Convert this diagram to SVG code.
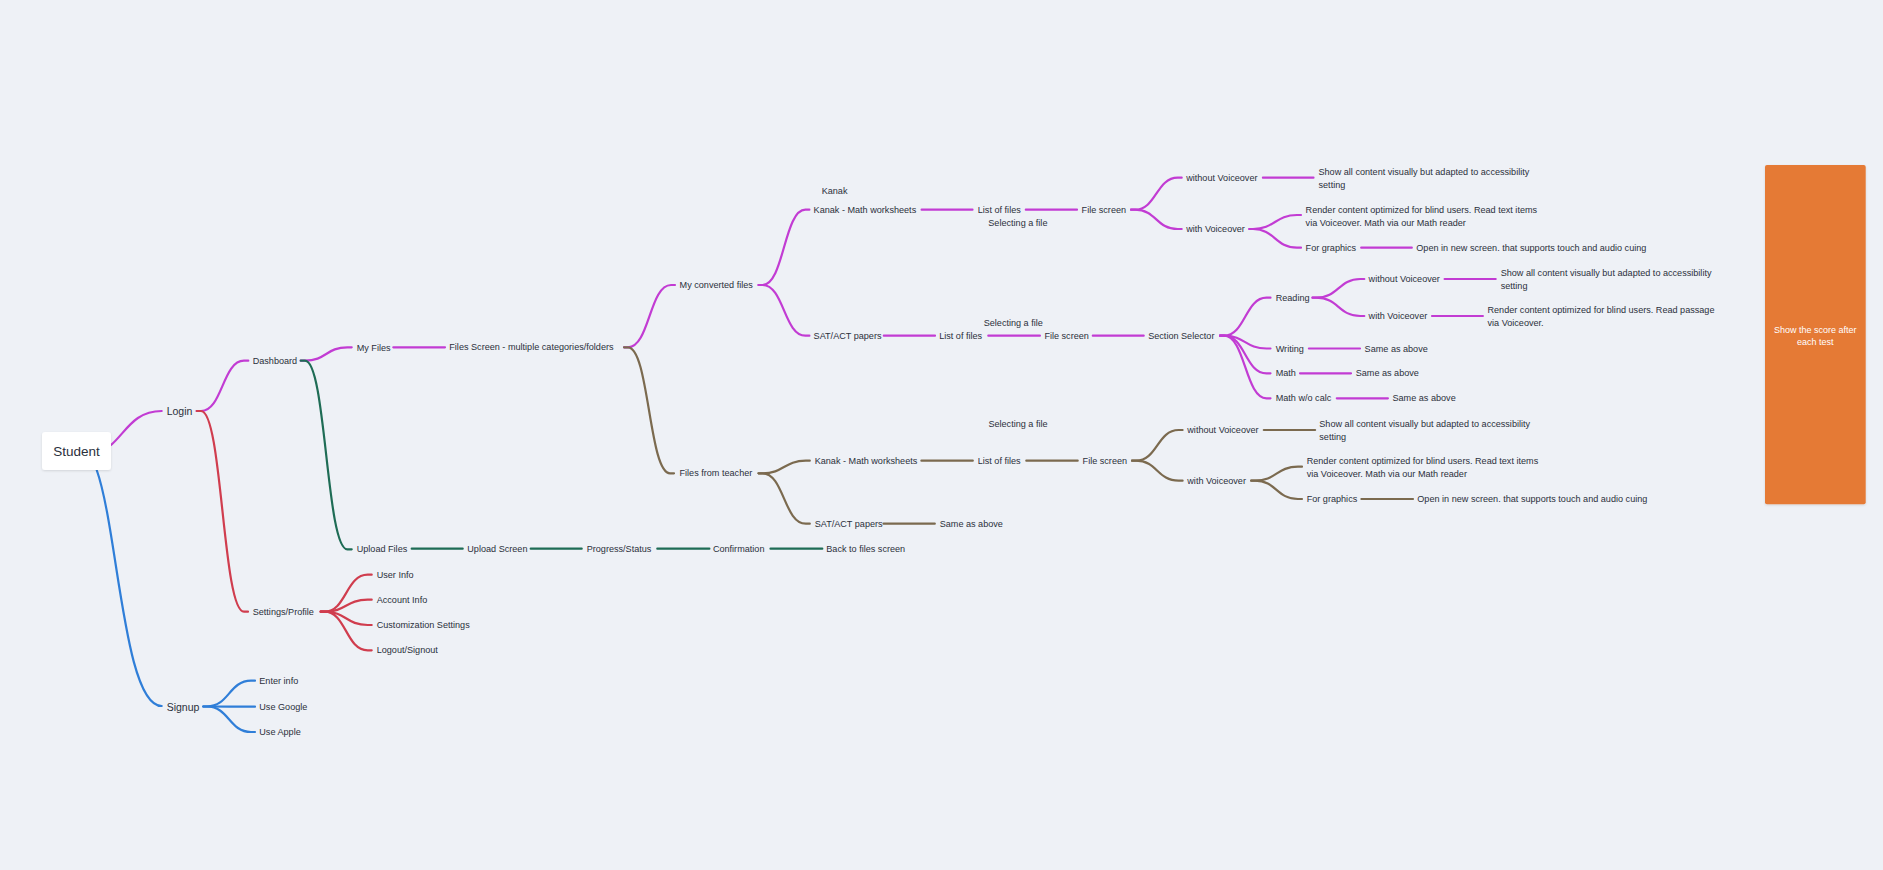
<svg xmlns="http://www.w3.org/2000/svg" width="1883" height="870" viewBox="0 0 1883 870">
<defs>
<filter id="sh" x="-20%" y="-20%" width="140%" height="140%"><feDropShadow dx="0" dy="1" stdDeviation="1" flood-color="#000" flood-opacity="0.12"/></filter>
<style>
text{font-family:"Liberation Sans",Arial,sans-serif;fill:#2b303b;dominant-baseline:central}
.t{font-size:9.1px}
.m{font-size:10.5px}
.w{fill:#ffffff;font-size:9px}
path{fill:none;stroke-width:2.2;stroke-linecap:round}
.p{stroke:#c23cd3}.b{stroke:#7b6a4f}.g{stroke:#1e6c55}.r{stroke:#d03d4e}.u{stroke:#2f7ed8}
</style>
</defs>
<rect width="1883" height="870" fill="#eef1f6"/>
<g id="connectors">
<path class="p" d="M111 445 C126 432 134 411 161.7 411"/>
<path class="p" d="M196.7 411 H201 C222.5 411 222.5 360.7 244 360.7 H248.3"/>
<path class="p" d="M300.7 360.7 H305 C326.2 360.7 326.2 347.3 347.4 347.3 H351.7"/>
<path class="p" d="M393.3 347.3 H445"/>
<path class="p" d="M624 347.3 H628 C649.5 347.3 649.5 285 671 285 H675"/>
<path class="p" d="M758.5 285 H762.5 C784 285 784 209.7 805.4 209.7 H809.4"/>
<path class="p" d="M758.5 285 H762.5 C784 285 784 335.7 805.4 335.7 H809.4"/>
<path class="p" d="M921.6 209.7 H972.5 M1025.8 209.7 H1077"/>
<path class="p" d="M1131 209.7 H1135 C1156.3 209.7 1156.3 177.7 1177.7 177.7 H1181.7"/>
<path class="p" d="M1131 209.7 H1135 C1156.3 209.7 1156.3 229 1177.7 229 H1181.7"/>
<path class="p" d="M1262.9 177.7 H1313.5"/>
<path class="p" d="M1249.3 229 H1253 C1275 229 1275 215 1297 215 H1301"/>
<path class="p" d="M1249.3 229 H1253 C1275 229 1275 247.7 1297 247.7 H1301"/>
<path class="p" d="M1361.2 247.7 H1411.8"/>
<path class="p" d="M883.8 335.7 H935 M988.3 335.7 H1039.9 M1092.8 335.7 H1143.7"/>
<path class="p" d="M1220 335.7 H1224 C1245.2 335.7 1245.2 297.7 1266.5 297.7 H1270.5"/>
<path class="p" d="M1220 335.7 H1224 C1245.2 335.7 1245.2 348.5 1266.5 348.5 H1270.5"/>
<path class="p" d="M1220 335.7 H1224 C1245.2 335.7 1245.2 373.3 1266.5 373.3 H1270.5"/>
<path class="p" d="M1220 335.7 H1224 C1245.2 335.7 1245.2 398.3 1266.5 398.3 H1270.5"/>
<path class="p" d="M1312.5 297.7 H1316.5 C1338.4 297.7 1338.4 279 1360.3 279 H1364.3"/>
<path class="p" d="M1312.5 297.7 H1316.5 C1338.4 297.7 1338.4 316 1360.3 316 H1364.3"/>
<path class="p" d="M1444.6 279 H1495.7 M1432 316 H1482.9 M1308.9 348.5 H1360 M1300 373.3 H1351 M1336.8 398.3 H1387.9"/>
<path class="b" d="M624 347.3 H628 C649 347.3 649 473.3 670 473.3 H674"/>
<path class="b" d="M758.5 473.3 H762.5 C784 473.3 784 460.7 805.8 460.7 H809.8"/>
<path class="b" d="M758.5 473.3 H762.5 C784 473.3 784 523.7 805.8 523.7 H809.8"/>
<path class="b" d="M921.4 460.7 H972.8 M1026.3 460.7 H1077.7"/>
<path class="b" d="M1132 460.7 H1136 C1157.3 460.7 1157.3 430 1178.6 430 H1182.6"/>
<path class="b" d="M1132 460.7 H1136 C1157.3 460.7 1157.3 480.7 1178.6 480.7 H1182.6"/>
<path class="b" d="M1263.8 430 H1315.1"/>
<path class="b" d="M1251.2 480.7 H1255 C1276.5 480.7 1276.5 466.7 1298 466.7 H1302"/>
<path class="b" d="M1251.2 480.7 H1255 C1276.5 480.7 1276.5 499 1298 499 H1302"/>
<path class="b" d="M1361.4 499 H1413 M883.5 523.7 H934.8"/>
<path class="g" d="M300.7 360.7 H305 C326.2 360.7 326.2 549.3 347.4 549.3 H351.7"/>
<path class="g" d="M411.7 548.7 H462.7 M530.7 548.7 H581.7 M657.3 548.7 H709.4 M770.5 548.7 H822.3"/>
<path class="r" d="M196.7 411 H201 C222.5 411 222.5 611.7 244 611.7 H248"/>
<path class="r" d="M320.7 611.7 H324.7 C346 611.7 346 574.7 367.7 574.7 H371.7"/>
<path class="r" d="M320.7 611.7 H324.7 C346 611.7 346 599.7 367.7 599.7 H371.7"/>
<path class="r" d="M320.7 611.7 H324.7 C346 611.7 346 625 367.7 625 H371.7"/>
<path class="r" d="M320.7 611.7 H324.7 C346 611.7 346 650.3 367.7 650.3 H371.7"/>
<path class="u" d="M96.7 470 C118 530 124 706 161.7 706"/>
<path class="u" d="M203.3 706.5 H207 C229 706.5 229 680.7 251 680.7 H255"/>
<path class="u" d="M203.3 706.5 H207 C229 706.5 229 706.7 251 706.7 H255"/>
<path class="u" d="M203.3 706.5 H207 C229 706.5 229 732 251 732 H255"/>
</g>
<g id="student"><rect x="42" y="432" width="69" height="38" rx="3" fill="#ffffff" filter="url(#sh)"/><text x="76.5" y="451.5" text-anchor="middle" style="font-size:13.5px">Student</text></g>
<g id="login"><text class="m" x="166.7" y="411.3">Login</text></g>
<g id="signup"><text class="m" x="166.7" y="707">Signup</text></g>
<g id="dashboard"><text class="t" x="252.7" y="360.7">Dashboard</text></g>
<g id="settings"><text class="t" x="252.7" y="611.7">Settings/Profile</text></g>
<g id="myfiles"><text class="t" x="356.7" y="347.5">My Files</text></g>
<g id="uploadfiles"><text class="t" x="356.7" y="549.3">Upload Files</text></g>
<g id="filesscreen"><text class="t" x="449.3" y="347.3">Files Screen - multiple categories/folders</text></g>
<g id="uploadscreen"><text class="t" x="467.3" y="548.7">Upload Screen</text></g>
<g id="progress"><text class="t" x="586.7" y="548.7">Progress/Status</text></g>
<g id="confirmation"><text class="t" x="712.9" y="548.7">Confirmation</text></g>
<g id="backtofiles"><text class="t" x="826.3" y="548.7">Back to files screen</text></g>
<g id="userinfo"><text class="t" x="376.7" y="574.7">User Info</text></g>
<g id="accountinfo"><text class="t" x="376.7" y="599.7">Account Info</text></g>
<g id="customization"><text class="t" x="376.7" y="625">Customization Settings</text></g>
<g id="logout"><text class="t" x="376.7" y="650.3">Logout/Signout</text></g>
<g id="enterinfo"><text class="t" x="259.3" y="680.7">Enter info</text></g>
<g id="usegoogle"><text class="t" x="259.3" y="706.7">Use Google</text></g>
<g id="useapple"><text class="t" x="259.3" y="732">Use Apple</text></g>
<g id="myconverted"><text class="t" x="679.6" y="285">My converted files</text></g>
<g id="fromteacher"><text class="t" x="679.5" y="473.3">Files from teacher</text></g>
<g id="kanak-label"><text class="t" x="821.7" y="190.7">Kanak</text></g>
<g id="c-kanak"><text class="t" x="813.6" y="209.7">Kanak - Math worksheets</text></g>
<g id="c-kanak-list"><text class="t" x="977.8" y="209.7">List of files</text></g>
<g id="c-kanak-sel"><text class="t" x="988.3" y="222.7">Selecting a file</text></g>
<g id="c-kanak-file"><text class="t" x="1081.6" y="209.7">File screen</text></g>
<g id="c-kanak-without"><text class="t" x="1186.2" y="177.7">without Voiceover</text></g>
<g id="c-kanak-show"><text class="t" x="1318.5" y="171.7">Show all content visually but adapted to accessibility</text><text class="t" x="1318.5" y="185">setting</text></g>
<g id="c-kanak-with"><text class="t" x="1186.2" y="229">with Voiceover</text></g>
<g id="c-kanak-render"><text class="t" x="1305.6" y="210">Render content optimized for blind users. Read text items</text><text class="t" x="1305.6" y="222.7">via Voiceover. Math via our Math reader</text></g>
<g id="c-kanak-graphics"><text class="t" x="1305.6" y="247.7">For graphics</text></g>
<g id="c-kanak-open"><text class="t" x="1416.3" y="247.7">Open in new screen. that supports touch and audio cuing</text></g>
<g id="c-sat"><text class="t" x="813.6" y="335.7">SAT/ACT papers</text></g>
<g id="c-sat-list"><text class="t" x="939.2" y="335.7">List of files</text></g>
<g id="c-sat-sel"><text class="t" x="983.7" y="322.7">Selecting a file</text></g>
<g id="c-sat-file"><text class="t" x="1044.4" y="335.7">File screen</text></g>
<g id="c-sat-section"><text class="t" x="1148.2" y="335.7">Section Selector</text></g>
<g id="reading"><text class="t" x="1275.7" y="297.7">Reading</text></g>
<g id="writing"><text class="t" x="1275.7" y="348.5">Writing</text></g>
<g id="math"><text class="t" x="1275.7" y="373.3">Math</text></g>
<g id="mathwo"><text class="t" x="1275.7" y="398.3">Math w/o calc</text></g>
<g id="reading-without"><text class="t" x="1368.6" y="279">without Voiceover</text></g>
<g id="reading-show"><text class="t" x="1500.7" y="273.3">Show all content visually but adapted to accessibility</text><text class="t" x="1500.7" y="286">setting</text></g>
<g id="reading-with"><text class="t" x="1368.6" y="316">with Voiceover</text></g>
<g id="reading-render"><text class="t" x="1487.5" y="310">Render content optimized for blind users. Read passage</text><text class="t" x="1487.5" y="322.7">via Voiceover.</text></g>
<g id="writing-same"><text class="t" x="1364.6" y="348.5">Same as above</text></g>
<g id="math-same"><text class="t" x="1355.7" y="373.3">Same as above</text></g>
<g id="mathwo-same"><text class="t" x="1392.5" y="398.3">Same as above</text></g>
<g id="t-kanak"><text class="t" x="814.7" y="460.7">Kanak - Math worksheets</text></g>
<g id="t-kanak-list"><text class="t" x="977.7" y="460.7">List of files</text></g>
<g id="t-kanak-sel"><text class="t" x="988.4" y="424">Selecting a file</text></g>
<g id="t-kanak-file"><text class="t" x="1082.6" y="460.7">File screen</text></g>
<g id="t-kanak-without"><text class="t" x="1187.3" y="430">without Voiceover</text></g>
<g id="t-kanak-show"><text class="t" x="1319.3" y="424">Show all content visually but adapted to accessibility</text><text class="t" x="1319.3" y="436.7">setting</text></g>
<g id="t-kanak-with"><text class="t" x="1187.3" y="480.7">with Voiceover</text></g>
<g id="t-kanak-render"><text class="t" x="1306.7" y="461">Render content optimized for blind users. Read text items</text><text class="t" x="1306.7" y="473.7">via Voiceover. Math via our Math reader</text></g>
<g id="t-kanak-graphics"><text class="t" x="1306.7" y="499">For graphics</text></g>
<g id="t-kanak-open"><text class="t" x="1417.3" y="499">Open in new screen. that supports touch and audio cuing</text></g>
<g id="t-sat"><text class="t" x="814.7" y="523.7">SAT/ACT papers</text></g>
<g id="t-sat-same"><text class="t" x="939.7" y="523.7">Same as above</text></g>
<g id="score-note"><rect x="1765" y="165" width="100.7" height="339.3" rx="2" fill="#e57a35" filter="url(#sh)"/><text class="w" x="1815.3" y="330" text-anchor="middle">Show the score after</text><text class="w" x="1815.3" y="342" text-anchor="middle">each test</text></g>
</svg>
